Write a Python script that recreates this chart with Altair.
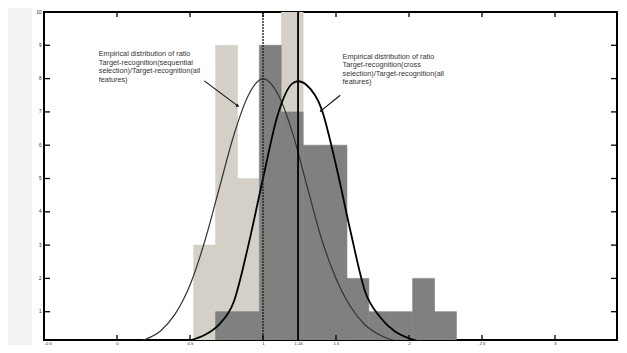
import altair as alt
import pandas as pd

# ---------------- data ----------------
x_tick_values = [-0.5, 0, 0.5, 1, 1.24, 1.5, 2, 2.5, 3]
x_inner_ticks = [0, 0.5, 1, 1.5, 2, 2.5, 3]
y_tick_values = [1, 2, 3, 4, 5, 6, 7, 8, 9, 10]
y_inner_ticks = [1, 2, 3, 4, 5, 6, 7, 8, 9]

# histogram of ratio (sequential selection) - light bars (visible parts)
seq_bin_lo = [0.525, 0.675, 0.825, 1.125]
seq_count = [3, 9, 5, 10]
# histogram of ratio (cross selection) - dark bars
cross_bin_lo = [0.675, 0.825, 0.975, 1.125, 1.275, 1.425, 1.575, 1.725, 1.875, 2.025, 2.175]
cross_count = [1, 1, 9, 7, 6, 6, 2, 1, 1, 2, 1]
bin_width = 0.15

# fitted curves
seq_curve_x = [0.0, 0.1, 0.2, 0.3, 0.4, 0.5, 0.6, 0.7, 0.8, 0.9, 1.0, 1.1, 1.2, 1.3,
               1.4, 1.5, 1.6, 1.7, 1.8, 1.9, 2.0, 2.2, 2.5, 3.0]
seq_curve_y = [0.02, 0.06, 0.18, 0.43, 0.94, 1.8, 3.1, 4.7, 6.3, 7.5, 8.0, 7.55, 6.4, 4.8,
               3.2, 2.0, 1.15, 0.6, 0.3, 0.13, 0.06, 0.01, 0.0, 0.0]
cross_curve_x = [0.0, 0.3, 0.4, 0.5, 0.6, 0.7, 0.8, 0.9, 1.0, 1.1, 1.2, 1.24, 1.3, 1.4,
                 1.5, 1.6, 1.7, 1.8, 1.9, 2.0, 2.1, 2.2, 2.4, 3.0]
cross_curve_y = [0.0, 0.02, 0.06, 0.14, 0.3, 0.62, 1.3, 3.0, 5.0, 6.9, 7.85, 7.92, 7.8, 7.1,
                 5.4, 3.4, 1.6, 0.85, 0.42, 0.2, 0.08, 0.03, 0.0, 0.0]

mean_seq = [1.0]
mean_cross = [1.24]

ann_text = [
    "Empirical distribution of ratio\nTarget-recognition(sequential\nselection)/Target-recognition(all\nfeatures)",
    "Empirical distribution of ratio\nTarget-recognition(cross\nselection)/Target-recognition(all\nfeatures)",
]
ann_x = [-0.125, 1.545]
ann_y = [8.85, 8.78]

arrow_x0 = [0.598, 1.529]
arrow_y0 = [7.93, 7.50]
arrow_x1 = [0.827, 1.397]
arrow_y1 = [7.18, 7.03]
arrow_angle = [127, 231]

# ---------------- layout ----------------
# the reference frame runs slightly past the window; the plot keeps (close to)
# the reference's pixels-per-unit and the domain is cut where the window ends
W, H = 573, 328
PX_X, PX_Y = 146.0, 33.3
X_MIN, X_MAX = -0.5, -0.5 + W / PX_X
Y_MIN, Y_MAX = 10 - H / PX_Y, 10
LIGHT = "#d4d0c8"
DARK = "#808080"
FONT = "Liberation Sans"

xs = alt.Scale(domain=[X_MIN, X_MAX], nice=False, zero=False)
ys = alt.Scale(domain=[Y_MIN, Y_MAX], nice=False, zero=False)

x_axis = alt.Axis(values=x_tick_values, title=None, labelFontSize=4.2, labelFont=FONT,
                  labelColor="#222", labelPadding=1, ticks=False, domain=False, grid=False,
                  labelExpr="'' + datum.value")
y_axis = alt.Axis(values=y_tick_values, title=None, labelFontSize=4.5, labelFont=FONT,
                  labelColor="#222", labelPadding=3, ticks=False, domain=False, grid=False,
                  labelExpr="'' + datum.value")


def X(field):
    return alt.X(field, type="quantitative", scale=xs, axis=x_axis)


def Y(field):
    return alt.Y(field, type="quantitative", scale=ys, axis=y_axis)


seq_df = pd.DataFrame({"lo": seq_bin_lo, "count": seq_count})
seq_df["hi"] = seq_df["lo"] + bin_width
cross_df = pd.DataFrame({"lo": cross_bin_lo, "count": cross_count})
cross_df["hi"] = cross_df["lo"] + bin_width

light_bars = alt.Chart(seq_df).mark_rect(
    color=LIGHT, stroke=LIGHT, strokeWidth=0.6, clip=True
).encode(x=X("lo"), x2="hi", y=Y("count"), y2=alt.datum(0))
dark_bars = alt.Chart(cross_df).mark_rect(
    color=DARK, stroke=DARK, strokeWidth=0.6, clip=True
).encode(x=X("lo"), x2="hi", y=Y("count"), y2=alt.datum(0))

seq_curve = alt.Chart(pd.DataFrame({"x": seq_curve_x, "y": seq_curve_y})).mark_line(
    color="#333333", strokeWidth=1.2, interpolate="monotone", clip=True
).encode(x=X("x"), y=Y("y"))
cross_curve = alt.Chart(pd.DataFrame({"x": cross_curve_x, "y": cross_curve_y})).mark_line(
    color="#000000", strokeWidth=1.8, interpolate="monotone", clip=True
).encode(x=X("x"), y=Y("y"))

vline_seq = alt.Chart(pd.DataFrame({"x": mean_seq})).mark_rule(
    color="#222", strokeWidth=1.4, strokeDash=[2, 1]
).encode(x=X("x"))
vline_cross = alt.Chart(pd.DataFrame({"x": mean_cross})).mark_rule(
    color="#000", strokeWidth=1.8
).encode(x=X("x"))

xt = pd.DataFrame({"x": x_inner_ticks})
yt = pd.DataFrame({"y": y_inner_ticks})
tick_style = dict(color="#000", strokeWidth=1.3)
bottom_ticks = alt.Chart(xt).mark_rule(**tick_style).encode(
    x=X("x"), y=alt.value(H), y2=alt.value(H - 5))
top_ticks = alt.Chart(xt).mark_rule(**tick_style).encode(
    x=X("x"), y=alt.value(0), y2=alt.value(5))
left_ticks = alt.Chart(yt).mark_rule(**tick_style).encode(
    y=Y("y"), x=alt.value(0), x2=alt.value(6))
right_ticks = alt.Chart(yt).mark_rule(**tick_style).encode(
    y=Y("y"), x=alt.value(W), x2=alt.value(W - 6))

ann = alt.Chart(pd.DataFrame({"t": ann_text, "x": ann_x, "y": ann_y})).mark_text(
    align="left", baseline="top", font=FONT, fontSize=7.3, lineHeight=8.6,
    color="#333", lineBreak="\n"
).encode(x=X("x"), y=Y("y"), text="t:N")

arr_df = pd.DataFrame({"x0": arrow_x0, "y0": arrow_y0, "x1": arrow_x1, "y1": arrow_y1,
                       "a": arrow_angle})
arrow_lines = alt.Chart(arr_df).mark_rule(color="#111", strokeWidth=1.1).encode(
    x=X("x0"), y=Y("y0"), x2="x1", y2="y1")
arrow_heads = alt.Chart(arr_df).mark_point(
    shape="triangle-up", filled=True, color="#111", size=14, opacity=1
).encode(x=X("x1"), y=Y("y1"), angle=alt.Angle("a:Q", scale=None))

strip = alt.Chart(pd.DataFrame({"k": [0]})).mark_rect(color="#f2f2f2").encode(
    x=alt.value(-36), x2=alt.value(-12), y=alt.value(-4), y2=alt.value(H + 5))

chart = alt.layer(
    strip, light_bars, dark_bars, seq_curve, cross_curve, vline_seq, vline_cross,
    bottom_ticks, top_ticks, left_ticks, right_ticks, ann, arrow_lines, arrow_heads
).properties(
    width=W, height=H,
    autosize=alt.AutoSizeParams(type="none"),
    padding={"left": 36, "top": 4, "right": 1, "bottom": 5},
    background="white",
).configure_view(
    stroke="#000", strokeWidth=2
)

chart.save("out.html", embed_options={"renderer": "svg", "actions": False})
